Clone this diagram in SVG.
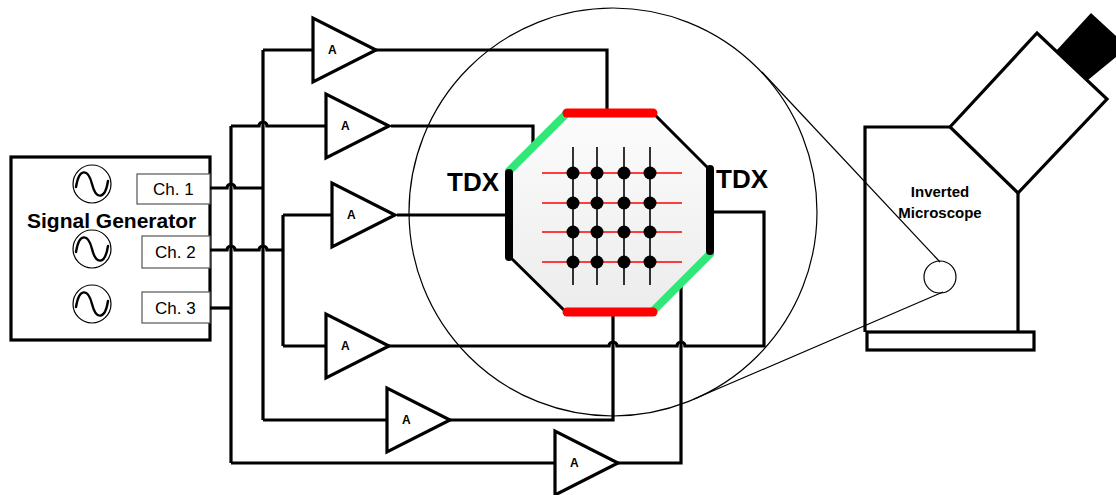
<svg xmlns="http://www.w3.org/2000/svg" width="1116" height="495" viewBox="0 0 1116 495">
  <style>
    .wire { fill: none; stroke: #000; stroke-width: 3.2; stroke-linejoin: miter; }
    .thin { fill: none; stroke: #000; stroke-width: 1.2; }
    .box { fill: #fff; stroke: #000; stroke-width: 3.2; }
    .chbox { fill: #fff; stroke: #555; stroke-width: 1.2; }
    .amp { fill: #fff; stroke: #000; stroke-width: 3.2; stroke-linejoin: miter; }
    .amplabel { font-family: "Liberation Sans", Arial, sans-serif; font-weight: bold; font-size: 12px; fill: #000; }
    .label { font-family: "Liberation Sans", Arial, sans-serif; fill: #000; }
    .bold { font-weight: bold; }
    .sine { fill: none; stroke: #000; stroke-width: 2.4; stroke-linecap: round; }
  </style>
  <defs>
    <g id="amplifier">
      <path class="amp" d="M0,-32 L0,32 L63,0 Z"/>
      <text class="amplabel" x="15" y="4">A</text>
    </g>
    <linearGradient id="chipFill" x1="0" y1="0" x2="0" y2="1">
      <stop offset="0" stop-color="#fcfcfc"/>
      <stop offset="1" stop-color="#ececec"/>
    </linearGradient>
  </defs>

  <rect width="1116" height="495" fill="#fff"/>

  <!-- magnified field of view -->
  <g id="zoom-view">
    <circle class="thin" cx="613" cy="212" r="204"/>
    <line class="thin" x1="762" y1="72" x2="940" y2="262"/>
    <line class="thin" x1="694" y1="399" x2="943" y2="292"/>
  </g>

  <!-- signal generator -->
  <g id="signal-generator">
    <rect class="box" x="11" y="157" width="199" height="183"/>
    <rect class="chbox" x="137" y="174" width="73" height="30"/>
    <rect class="chbox" x="142" y="236" width="68" height="32"/>
    <rect class="chbox" x="142" y="292" width="68" height="31"/>
    <text class="label" x="153" y="195" font-size="17">Ch. 1</text>
    <text class="label" x="155" y="258" font-size="17">Ch. 2</text>
    <text class="label" x="155" y="314" font-size="17">Ch. 3</text>
    <circle class="thin" cx="92" cy="184" r="19"/>
    <circle class="thin" cx="92" cy="249" r="19"/>
    <circle class="thin" cx="92" cy="304" r="19"/>
    <path class="sine" d="M76,187 C79,168 88,168 92,184 C96,200 105,200 108,181"/>
    <path class="sine" d="M76,252 C79,233 88,233 92,249 C96,265 105,265 108,246"/>
    <path class="sine" d="M76,307 C79,288 88,288 92,304 C96,320 105,320 108,301"/>
    <text class="label bold" x="27" y="228" font-size="21">Signal Generator</text>
  </g>

  <!-- wiring -->
  <g id="connectors">
    <!-- channel outputs -->
    <path class="wire" d="M210,188 H227 a4,4 0 0 1 8,0 H263"/>
    <path class="wire" d="M210,250 H227 a4,4 0 0 1 8,0 H259 a4,4 0 0 1 8,0 H283"/>
    <path class="wire" d="M210,308 H231"/>
    <!-- distribution buses -->
    <path class="wire" d="M231,126 V463"/>
    <path class="wire" d="M263,50 V420"/>
    <path class="wire" d="M283,215 V346"/>
    <!-- amplifier inputs -->
    <path class="wire" d="M263,50 H313"/>
    <path class="wire" d="M231,126 H259 a4,4 0 0 1 8,0 H326"/>
    <path class="wire" d="M283,215 H332"/>
    <path class="wire" d="M283,346 H326"/>
    <path class="wire" d="M263,420 H387"/>
    <path class="wire" d="M231,463 H555"/>
    <!-- amplifier outputs to the transducers -->
    <path class="wire" d="M376,50 H607 V112"/>
    <path class="wire" d="M391,126 H533 V146"/>
    <path class="wire" d="M397,215 H505"/>
    <path class="wire" d="M388,346 H609 a4,4 0 0 1 8,0 H677 a4,4 0 0 1 8,0 H764 V212 H712"/>
    <path class="wire" d="M450,420 H613 V314"/>
    <path class="wire" d="M618,463 H681 V283"/>
  </g>

  <!-- amplifiers -->
  <g id="amp-1"><use href="#amplifier" x="313" y="50"/></g>
  <g id="amp-2"><use href="#amplifier" x="326" y="126"/></g>
  <g id="amp-3"><use href="#amplifier" x="332" y="215"/></g>
  <g id="amp-4"><use href="#amplifier" x="326" y="346"/></g>
  <g id="amp-5"><use href="#amplifier" x="387" y="420"/></g>
  <g id="amp-6"><use href="#amplifier" x="555" y="463"/></g>

  <!-- octagonal chip with transducers -->
  <g id="chip">
    <polygon points="566,113 653,113 710,170 710,254 653,312 566,312 509,256 509,170" fill="url(#chipFill)" stroke="#000" stroke-width="3"/>
    <g stroke="#000" stroke-width="1.6">
      <line x1="573" y1="147" x2="573" y2="285"/>
      <line x1="597" y1="147" x2="597" y2="285"/>
      <line x1="624" y1="147" x2="624" y2="285"/>
      <line x1="650" y1="147" x2="650" y2="285"/>
    </g>
    <g stroke="#ff0000" stroke-width="1.6">
      <line x1="542" y1="173" x2="682" y2="173"/>
      <line x1="542" y1="203" x2="682" y2="203"/>
      <line x1="542" y1="232" x2="682" y2="232"/>
      <line x1="542" y1="262" x2="682" y2="262"/>
    </g>
    <g fill="#000">
      <circle cx="573" cy="173" r="6.5"/><circle cx="597" cy="173" r="6.5"/><circle cx="624" cy="173" r="6.5"/><circle cx="650" cy="173" r="6.5"/>
      <circle cx="573" cy="203" r="6.5"/><circle cx="597" cy="203" r="6.5"/><circle cx="624" cy="203" r="6.5"/><circle cx="650" cy="203" r="6.5"/>
      <circle cx="573" cy="232" r="6.5"/><circle cx="597" cy="232" r="6.5"/><circle cx="624" cy="232" r="6.5"/><circle cx="650" cy="232" r="6.5"/>
      <circle cx="573" cy="262" r="6.5"/><circle cx="597" cy="262" r="6.5"/><circle cx="624" cy="262" r="6.5"/><circle cx="650" cy="262" r="6.5"/>
    </g>
    <g stroke-linecap="round">
      <line x1="509" y1="171" x2="566" y2="114" stroke="#33e67a" stroke-width="8"/>
      <line x1="710" y1="254" x2="653" y2="311" stroke="#33e67a" stroke-width="8"/>
      <line x1="567" y1="113" x2="653" y2="113" stroke="#ff0000" stroke-width="9"/>
      <line x1="567" y1="312" x2="653" y2="312" stroke="#ff0000" stroke-width="9"/>
    </g>
    <line x1="509" y1="173" x2="509" y2="257" stroke="#000" stroke-width="8" stroke-linecap="round"/>
    <line x1="710" y1="169" x2="710" y2="251" stroke="#000" stroke-width="8" stroke-linecap="round"/>
    <text class="label bold" x="447" y="191" font-size="26">TDX</text>
    <text class="label bold" x="716" y="188" font-size="26">TDX</text>
  </g>

  <!-- inverted microscope -->
  <g id="microscope">
    <path class="wire" d="M950,127 H865 V332 M1018,193 V332"/>
    <polygon class="box" points="950,127 1037,33 1107,99 1018,193"/>
    <polygon points="1056,51 1091,13 1128,47 1088,80" fill="#000"/>
    <rect class="box" x="867" y="332" width="167" height="18"/>
    <circle cx="940" cy="277" r="16" fill="none" stroke="#000" stroke-width="1.2"/>
    <text class="label bold" x="940" y="197" font-size="15" text-anchor="middle">Inverted</text>
    <text class="label bold" x="940" y="218" font-size="15" text-anchor="middle">Microscope</text>
  </g>
</svg>
